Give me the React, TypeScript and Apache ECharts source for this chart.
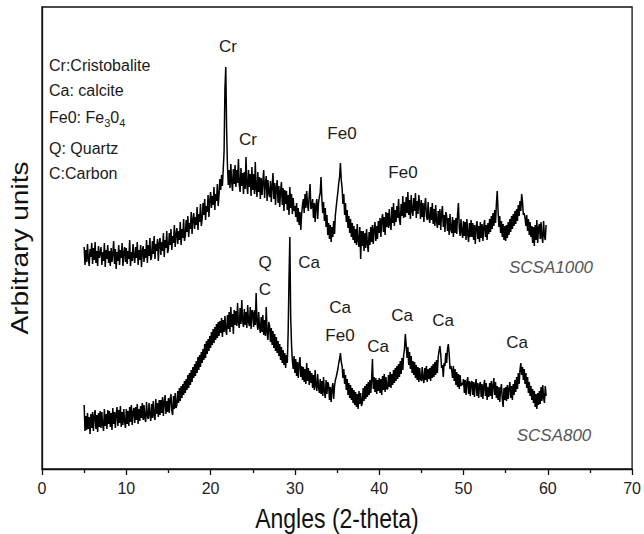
import React, { useEffect, useRef } from "react";
import * as echarts from "echarts";

// 2-theta sampling of both patterns
const angleStart = 5;
const angleStep = 0.1;

// SCSA1000 intensities (arbitrary units), one row per degree, 5.0 .. 59.8
const scsa1000: number[] = [
  222, 204, 219, 207, 225, 210, 203, 220, 212, 226,
  205, 221, 209, 227, 206, 218, 203, 223, 211, 216,
  222, 204, 217, 208, 226, 202, 219, 210, 224, 206,
  218, 203, 221, 207, 215, 228, 205, 220, 200, 217,
  208, 224, 204, 219, 211, 226, 203, 216, 222, 207,
  221, 205, 218, 210, 229, 203, 217, 208, 225, 212,
  206, 222, 211, 227, 204, 219, 209, 224, 202, 218,
  223, 207, 220, 211, 229, 206, 224, 213, 231, 209,
  212, 228, 215, 233, 210, 225, 218, 230, 208, 226,
  231, 214, 227, 218, 236, 212, 229, 221, 238, 216,
  220, 236, 224, 240, 219, 233, 226, 244, 222, 235,
  241, 225, 238, 229, 247, 224, 240, 231, 250, 228,
  233, 249, 237, 253, 232, 246, 240, 257, 235, 250,
  256, 240, 252, 244, 262, 239, 255, 247, 265, 243,
  250, 266, 254, 270, 249, 263, 257, 274, 252, 268,
  277, 261, 273, 264, 282, 259, 275, 268, 285, 263,
  274, 290, 279, 294, 283, 300, 318, 380, 402, 340,
  303, 284, 299, 281, 305, 287, 278, 300, 285, 304,
  282, 299, 286, 310, 284, 277, 301, 283, 296, 275,
  297, 280, 312, 284, 275, 299, 282, 295, 273, 302,
  279, 295, 275, 307, 280, 272, 297, 277, 292, 270,
  291, 274, 288, 299, 271, 286, 293, 268, 289, 276,
  272, 288, 267, 283, 296, 270, 286, 264, 282, 289,
  266, 283, 262, 278, 287, 264, 281, 258, 279, 265,
  278, 259, 274, 254, 282, 261, 275, 255, 271, 258,
  263, 252, 266, 247, 261, 244, 257, 239, 255, 264,
  270, 256, 275, 261, 278, 264, 258, 274, 285, 260,
  262, 270, 251, 266, 247, 264, 270, 250, 266, 272,
  276, 292, 270, 256, 267, 248, 261, 242, 254, 234,
  246, 230, 244, 227, 242, 232, 248, 235, 254, 262,
  270, 277, 286, 292, 306, 289, 281, 265, 275, 254,
  266, 247, 259, 241, 253, 236, 250, 232, 246, 229,
  243, 226, 240, 224, 245, 228, 222, 242, 210, 238,
  223, 238, 218, 236, 221, 240, 225, 217, 237, 224,
  242, 227, 244, 225, 240, 247, 228, 243, 230, 248,
  236, 251, 232, 249, 255, 237, 252, 234, 257, 242,
  256, 241, 260, 244, 239, 262, 246, 266, 243, 259,
  247, 263, 251, 270, 249, 244, 265, 253, 273, 251,
  267, 252, 272, 256, 277, 254, 269, 250, 274, 258,
  253, 271, 258, 276, 251, 268, 255, 274, 265, 250,
  269, 252, 266, 247, 264, 271, 253, 249, 267, 251,
  246, 262, 249, 266, 245, 260, 243, 264, 248, 241,
  258, 244, 260, 239, 256, 263, 242, 254, 237, 257,
  253, 238, 251, 234, 255, 240, 236, 252, 232, 249,
  236, 251, 235, 256, 266, 240, 233, 250, 237, 231,
  248, 233, 247, 229, 250, 235, 227, 246, 232, 249,
  232, 246, 229, 244, 225, 242, 248, 230, 243, 227,
  247, 231, 245, 228, 242, 249, 232, 244, 229, 246,
  235, 250, 237, 253, 240, 256, 243, 259, 246, 265,
  278, 258, 242, 253, 236, 248, 232, 245, 229, 243,
  228, 244, 231, 247, 234, 250, 237, 253, 240, 255,
  243, 258, 245, 260, 248, 264, 253, 268, 258, 275,
  267, 254, 256, 251, 243, 254, 238, 250, 234, 247,
  232, 243, 226, 242, 223, 244, 229, 249, 226, 241,
  245, 230, 247, 232, 226, 248, 233, 229, 244,
];

// SCSA800 intensities (arbitrary units), one row per degree, 5.0 .. 59.8
const scsa800: number[] = [
  64, 38, 53, 39, 56, 40, 52, 35, 55, 41,
  57, 38, 53, 59, 40, 54, 37, 56, 42, 58,
  41, 57, 44, 38, 60, 43, 55, 40, 59, 45,
  58, 42, 56, 39, 61, 45, 57, 41, 55, 62,
  43, 59, 46, 63, 42, 57, 44, 60, 47, 41,
  60, 45, 58, 43, 62, 47, 64, 44, 57, 61,
  46, 62, 49, 65, 45, 60, 48, 63, 51, 66,
  49, 64, 51, 47, 67, 53, 50, 66, 54, 48,
  65, 51, 68, 53, 49, 70, 55, 66, 52, 69,
  54, 69, 56, 72, 53, 67, 74, 55, 68, 57,
  71, 56, 70, 75, 58, 54, 73, 60, 76, 61,
  64, 78, 66, 81, 68, 83, 71, 85, 74, 88,
  76, 90, 79, 94, 81, 96, 84, 99, 87, 102,
  91, 105, 93, 108, 96, 112, 99, 114, 102, 117,
  106, 120, 109, 125, 111, 128, 115, 130, 118, 133,
  121, 137, 124, 140, 126, 142, 129, 145, 131, 147,
  133, 148, 136, 151, 132, 149, 137, 153, 139, 134,
  154, 140, 157, 137, 162, 142, 155, 135, 159, 144,
  158, 143, 166, 146, 141, 161, 145, 169, 148, 142,
  160, 144, 157, 141, 164, 147, 143, 162, 140, 159,
  156, 142, 159, 144, 176, 146, 139, 157, 142, 136,
  152, 137, 154, 134, 149, 133, 162, 136, 129, 147,
  143, 127, 141, 124, 138, 121, 135, 118, 132, 116,
  128, 113, 125, 109, 122, 106, 119, 104, 116, 101,
  114, 106, 137, 190, 232, 152, 124, 108, 100, 113,
  96, 110, 93, 107, 91, 105, 112, 92, 103, 89,
  102, 87, 100, 85, 106, 88, 101, 84, 98, 86,
  96, 81, 94, 79, 99, 83, 78, 95, 82, 76,
  90, 75, 88, 73, 92, 77, 71, 89, 75, 87,
  84, 69, 82, 67, 80, 86, 70, 83, 89, 92,
  96, 100, 106, 110, 116, 107, 103, 91, 100, 85,
  94, 79, 90, 74, 86, 71, 84, 69, 81, 66,
  79, 64, 77, 62, 75, 60, 78, 65, 76, 63,
  66, 81, 68, 83, 70, 85, 72, 87, 74, 89,
  76, 90, 110, 80, 92, 77, 91, 75, 89, 78,
  91, 76, 90, 74, 93, 79, 95, 77, 92, 80,
  80, 94, 82, 97, 81, 95, 84, 99, 86, 101,
  88, 103, 90, 105, 92, 108, 95, 111, 99, 114,
  120, 135, 124, 111, 122, 104, 117, 100, 113, 96,
  108, 94, 107, 91, 104, 89, 102, 87, 101, 90,
  88, 102, 90, 86, 101, 89, 103, 87, 100, 90,
  101, 88, 103, 91, 105, 92, 107, 94, 109, 96,
  112, 118, 123, 115, 101, 104, 92, 106, 103, 116,
  106, 120, 125, 115, 100, 103, 99, 91, 103, 88,
  100, 84, 97, 82, 95, 80, 94, 83, 86, 84,
  90, 76, 89, 74, 87, 92, 75, 88, 73, 86,
  88, 74, 87, 72, 85, 90, 73, 86, 71, 84,
  87, 72, 85, 70, 83, 89, 73, 86, 69, 82,
  72, 86, 73, 88, 70, 84, 91, 74, 87, 71,
  83, 69, 82, 67, 80, 85, 70, 62, 81, 69,
  82, 68, 84, 70, 81, 87, 71, 83, 69, 85,
  74, 89, 77, 92, 80, 96, 85, 99, 106, 94,
  102, 89, 100, 85, 96, 81, 92, 76, 87, 73,
  83, 69, 80, 66, 78, 62, 75, 60, 76, 64,
  78, 65, 82, 68, 84, 71, 66, 83, 73,
];

const xAxisTitle = "Angles (2-theta)";
const yAxisTitle = "Arbitrary units";
const legendLines = ["Cr:Cristobalite", "Ca: calcite", "Q: Quartz", "C:Carbon"];
const seriesNames = ["SCSA1000", "SCSA800"];

const FONT = "'Liberation Sans', Arial, sans-serif";

function toPairs(values: number[]): [number, number][] {
  return values.map((v, i) => [+(angleStart + i * angleStep).toFixed(2), v]);
}

function label(text: string, x: number, y: number, fontSize = 17, extra: any = {}) {
  return {
    type: "text",
    x,
    y,
    style: {
      text,
      fontSize,
      fontFamily: FONT,
      fill: "#1a1a1a",
      align: "center",
      verticalAlign: "middle",
      ...extra,
    },
    z: 10,
  };
}

export default function App() {
  const ref = useRef<HTMLDivElement>(null);

  useEffect(() => {
    if (!ref.current) return;
    const chart = echarts.init(ref.current, null, { renderer: "svg" });

    const leftStyle = { align: "left" };
    const option: any = {
      animation: false,
      backgroundColor: "#ffffff",
      grid: {
        left: 42,
        right: 9,
        top: 7,
        bottom: 65,
        show: true,
        borderColor: "#111",
        borderWidth: 1.3,
      },
      xAxis: {
        type: "value",
        min: 0,
        max: 70,
        interval: 10,
        axisLine: { show: true, onZero: false, lineStyle: { color: "#111", width: 1.3 } },
        axisTick: { show: true, inside: false, length: 6, lineStyle: { color: "#111", width: 1.3 } },
        minorTick: { show: true, splitNumber: 2, length: 4, lineStyle: { color: "#111", width: 1.3 } },
        splitLine: { show: false },
        axisLabel: { fontSize: 16, color: "#222", margin: 11, fontFamily: FONT },
      },
      yAxis: {
        type: "value",
        min: 0,
        max: 462,
        axisLine: { show: true, lineStyle: { color: "#111", width: 1.3 } },
        axisTick: { show: false },
        axisLabel: { show: false },
        splitLine: { show: false },
      },
      series: [
        {
          name: seriesNames[0],
          type: "line",
          data: toPairs(scsa1000),
          showSymbol: false,
          lineStyle: { color: "#000", width: 1.5 },
        },
        {
          name: seriesNames[1],
          type: "line",
          data: toPairs(scsa800),
          showSymbol: false,
          lineStyle: { color: "#000", width: 1.5 },
        },
      ],
      graphic: [
        // legend block
        label(legendLines[0], 49, 65, 16, leftStyle),
        label(legendLines[1], 49, 90, 16, leftStyle),
        {
          type: "text",
          x: 49,
          y: 117,
          z: 10,
          style: {
            text: "Fe0: Fe{s|3}0{s|4}",
            fontSize: 16,
            lineHeight: 22,
            fontFamily: FONT,
            fill: "#1a1a1a",
            align: "left",
            verticalAlign: "middle",
            rich: {
              s: { fontSize: 11, lineHeight: 11, verticalAlign: "bottom", fontFamily: FONT, fill: "#1a1a1a" },
            },
          },
        },
        label(legendLines[2], 49, 148, 16, leftStyle),
        label(legendLines[3], 49, 173, 16, leftStyle),
        // peak labels, SCSA1000
        label("Cr", 228, 46),
        label("Cr", 248, 139),
        label("Fe0", 342, 133),
        label("Fe0", 403, 172),
        // peak labels, SCSA800
        label("Q", 265, 262),
        label("C", 265, 289),
        label("Ca", 309, 262),
        label("Ca", 340, 307),
        label("Fe0", 340, 335),
        label("Ca", 378, 346),
        label("Ca", 402, 315),
        label("Ca", 443, 320),
        label("Ca", 517, 342),
        // series names
        label(seriesNames[0], 551, 267, 17, { fontStyle: "italic", fill: "#555" }),
        label(seriesNames[1], 554, 435, 17, { fontStyle: "italic", fill: "#555" }),
        // axis titles
        { ...label(xAxisTitle, 0, 0, 23, { fill: "#111" }), x: 337, y: 518, scaleY: 1.2 },
        {
          ...label(yAxisTitle, 0, 0, 23, { fill: "#111" }),
          x: 20,
          y: 248,
          rotation: Math.PI / 2,
          scaleX: 1.22,
        },
      ],
    };

    chart.setOption(option);
    return () => chart.dispose();
  }, []);

  return (
    <div
      ref={ref}
      style={{ position: "fixed", left: 0, top: 0, width: 644, height: 534, background: "#fff" }}
    />
  );
}
